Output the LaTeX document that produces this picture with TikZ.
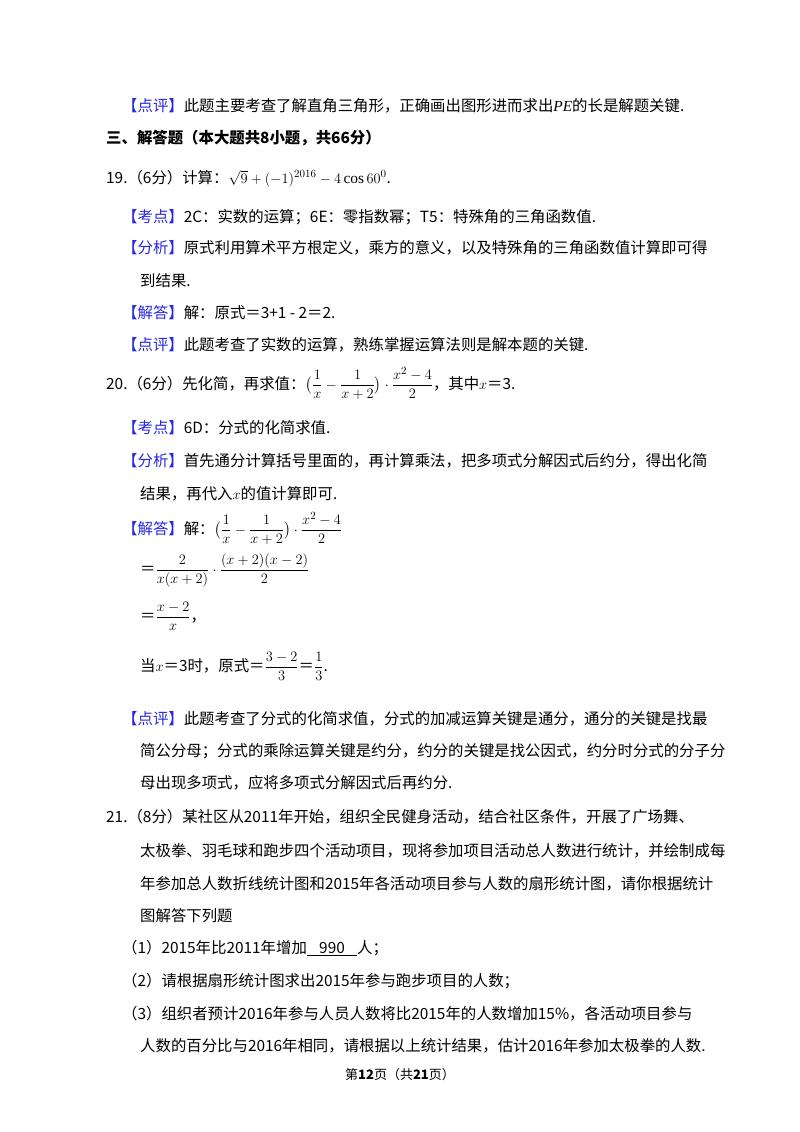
\documentclass[tikz,border=0pt]{standalone}
\usepackage{fontspec}
\usepackage{amsmath}
\setmainfont{Liberation Serif}
\newfontfamily\cjk{Noto Sans CJK SC}
\definecolor{tagblue}{RGB}{40,40,225}
\newcommand{\tg}[1]{{\color{tagblue}【#1】}}
\newcommand{\mfr}[2]{\genfrac{}{}{0.4pt}{}{\scriptstyle #1}{\scriptstyle #2}}
\begin{document}
\begin{tikzpicture}[x=1pt,y=-1pt,
  ln/.style={anchor=base west,inner sep=0pt,font=\cjk\fontsize{15.4}{18}\selectfont},
  ft/.style={anchor=base,inner sep=0pt,font=\cjk\fontsize{13}{16}\selectfont}]
\useasboundingbox (0,0) rectangle (800,1132);
\node[ln] (l1) at (122,111) {\tg{点评}此题主要考查了解直角三角形，正确画出图形进而求出{\rmfamily\itshape PE}的长是解题关键.};
\node[ln,font=\cjk\bfseries\fontsize{15.4}{18}\selectfont] (l2) at (106,143) {三、解答题（本大题共8小题，共66分）};
\node[ln] (l3) at (106,183) {19.（6分）计算：$\sqrt{9}+(-1)^{2016}-4\cos 60^{0}$.};
\node[ln] (l4) at (122,222) {\tg{考点}2C：实数的运算；6E：零指数幂；T5：特殊角的三角函数值.};
\node[ln] (l5) at (122,253) {\tg{分析}原式利用算术平方根定义，乘方的意义，以及特殊角的三角函数值计算即可得};
\node[ln] (l6) at (140,286) {到结果.};
\node[ln] (l7) at (122,318) {\tg{解答}解：原式＝3+1 - 2＝2.};
\node[ln] (l8) at (122,350) {\tg{点评}此题考查了实数的运算，熟练掌握运算法则是解本题的关键.};
\node[ln] (l9) at (106,389) {20.（6分）先化简，再求值：$\bigl(\dfrac{1}{x}-\dfrac{1}{x+2}\bigr)\cdot\dfrac{x^2-4}{2}$，其中$x$＝3.};
\node[ln] (l10) at (122,433) {\tg{考点}6D：分式的化简求值.};
\node[ln] (l11) at (122,466) {\tg{分析}首先通分计算括号里面的，再计算乘法，把多项式分解因式后约分，得出化简};
\node[ln] (l12) at (140,499) {结果，再代入$x$的值计算即可.};
\node[ln] (l13) at (122,534) {\tg{解答}解：$\bigl(\dfrac{1}{x}-\dfrac{1}{x+2}\bigr)\cdot\dfrac{x^2-4}{2}$};
\node[ln] (l14) at (140,574) {＝$\dfrac{2}{x(x+2)}\cdot\dfrac{(x+2)(x-2)}{2}$};
\node[ln] (l15) at (140,621) {＝$\dfrac{x-2}{x}$，};
\node[ln] (l16) at (140,671) {当$x$＝3时，原式＝$\dfrac{3-2}{3}$＝$\dfrac{1}{3}$.};
\node[ln] (l17) at (122,724) {\tg{点评}此题考查了分式的化简求值，分式的加减运算关键是通分，通分的关键是找最};
\node[ln] (l18) at (140,756) {简公分母；分式的乘除运算关键是约分，约分的关键是找公因式，约分时分式的分子分};
\node[ln] (l19) at (140,788) {母出现多项式，应将多项式分解因式后再约分.};
\node[ln] (l20) at (106,822) {21.（8分）某社区从2011年开始，组织全民健身活动，结合社区条件，开展了广场舞、};
\node[ln] (l21) at (140,856) {太极拳、羽毛球和跑步四个活动项目，现将参加项目活动总人数进行统计，并绘制成每};
\node[ln] (l22) at (140,889) {年参加总人数折线统计图和2015年各活动项目参与人数的扇形统计图，请你根据统计};
\node[ln] (l23) at (140,921) {图解答下列题};
\node[ln] (l24) at (122,953) {（1）2015年比2011年增加\underline{\hspace{0.8em}990\hspace{0.8em}}人；};
\node[ln] (l25) at (122,986) {（2）请根据扇形统计图求出2015年参与跑步项目的人数；};
\node[ln] (l26) at (122,1019) {（3）组织者预计2016年参与人员人数将比2015年的人数增加15\%，各活动项目参与};
\node[ln] (l27) at (140,1051) {人数的百分比与2016年相同，请根据以上统计结果，估计2016年参加太极拳的人数.};
\node[ft] (l28) at (400,1079) {第\textbf{12}页（共\textbf{21}页）};
\end{tikzpicture}
\end{document}
